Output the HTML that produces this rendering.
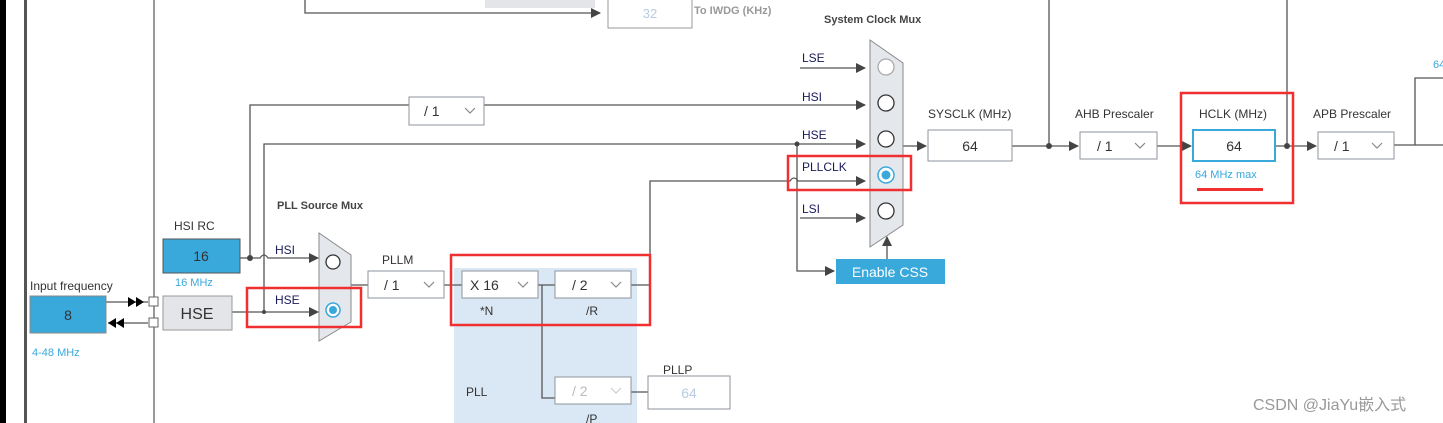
<!DOCTYPE html>
<html><head><style>
body{margin:0;width:1443px;height:423px;overflow:hidden;background:#fff}
svg{display:block}
text{font-family:"Liberation Sans","Noto Sans CJK SC",sans-serif}
</style></head><body>
<svg width="1443" height="423" viewBox="0 0 1443 423" xmlns="http://www.w3.org/2000/svg">
<defs>
<marker id="a" markerWidth="10" markerHeight="10" refX="9" refY="5" orient="auto" markerUnits="userSpaceOnUse"><path d="M0,0L10,5L0,10z" fill="#444"/></marker>
</defs>
<rect x="0" y="0" width="6" height="423" fill="#000"/>
<rect x="24" y="0" width="3" height="423" fill="#555"/>
<rect x="153" y="0" width="2" height="423" fill="#999"/>
<rect x="454" y="268" width="183" height="155" fill="#dae7f4"/>
<g stroke="#555" stroke-width="1.3" fill="none">
<path d="M305 0V13H600" marker-end="url(#a)"/>
<path d="M250 258V105H409M484 105H865" marker-end="url(#a)"/>
<path d="M264 312V144H865" marker-end="url(#a)"/>
<path d="M240 258H260q4,-6 8,0H318" marker-end="url(#a)"/>
<path d="M232 312H318" marker-end="url(#a)"/>
<path d="M351 285H368M444 285H462M538 285H555M631 285H650V181H790q4,-6 8,0H865" marker-end="url(#a)"/>
<path d="M542 285V398H555M631 392H648"/>
<path d="M800 68H865" marker-end="url(#a)"/>
<path d="M800 218H865" marker-end="url(#a)"/>
<path d="M797 144V271H834" marker-end="url(#a)"/>
<path d="M887 259V237" marker-end="url(#a)"/>
<path d="M903 146H926" marker-end="url(#a)"/>
<path d="M1049 0V146"/>
<path d="M1012 146H1078" marker-end="url(#a)"/>
<path d="M1157 146H1191" marker-end="url(#a)"/>
<path d="M1287 0V146"/>
<path d="M1275 146H1316" marker-end="url(#a)"/>
<path d="M1394 145H1443M1415 145V78H1443"/>
<path d="M106 302H148M108 323H148"/>
</g>
<path d="M128 297L136 302L128 307zM136 297L144 302L136 307z" fill="#000"/>
<path d="M124 318L116 323L124 328zM116 318L108 323L116 328z" fill="#000"/>
<circle cx="250" cy="258" r="3" fill="#444"/><circle cx="264" cy="312" r="2" fill="#444"/><circle cx="797" cy="144" r="2.5" fill="#444"/>
<circle cx="1049" cy="146" r="3" fill="#444"/><circle cx="1287" cy="146" r="3" fill="#444"/>
<rect x="149" y="297" width="9" height="9" fill="#fff" stroke="#666"/><rect x="149" y="318" width="9" height="9" fill="#fff" stroke="#666"/>
<rect x="485" y="0" width="110" height="8" fill="#e3e5e8"/>
<rect x="608" y="-1" width="84" height="29" fill="#fff" stroke="#999"/>
<text x="650" y="18" font-size="13" fill="#b8cce4" text-anchor="middle">32</text>
<text x="694" y="14" font-size="11" font-weight="bold" fill="#999">To IWDG (KHz)</text>
<g stroke="#8c949c" fill="#fff">
<rect x="409" y="97" width="75" height="28"/>
<rect x="368" y="271" width="76" height="27"/>
<rect x="462" y="271" width="76" height="27"/>
<rect x="555" y="271" width="76" height="27"/>
<rect x="555" y="377" width="76" height="27"/>
<rect x="648" y="376" width="82" height="33"/>
<rect x="928" y="130" width="84" height="31"/>
<rect x="1080" y="132" width="77" height="27"/>
<rect x="1318" y="132" width="76" height="27"/>
</g>
<g fill="none" stroke="#888" stroke-width="1.2">
<path d="M465 108l5 5 5-5M424 282l5 5 5-5M518 282l5 5 5-5M611 282l5 5 5-5M1135 143l5 5 5-5M1372 143l5 5 5-5"/>
<path d="M611 388l5 5 5-5" stroke="#ccc"/>
</g>
<g font-size="14" fill="#333">
<text x="424" y="116">/ 1</text><text x="384" y="290">/ 1</text><text x="470" y="290">X 16</text><text x="572" y="290">/ 2</text>
<text x="572" y="396" fill="#bbb">/ 2</text><text x="1097" y="151">/ 1</text><text x="1334" y="151">/ 1</text>
<text x="970" y="151" text-anchor="middle">64</text>
</g>
<text x="689" y="398" font-size="14" fill="#b8cce4" text-anchor="middle">64</text>
<rect x="163" y="239" width="77" height="34" fill="#39a8db" stroke="#555"/>
<text x="201" y="261" font-size="14" fill="#333" text-anchor="middle">16</text>
<rect x="30" y="296" width="76" height="37" fill="#39a8db" stroke="#888"/>
<text x="68" y="320" font-size="14" fill="#333" text-anchor="middle">8</text>
<rect x="163" y="296" width="69" height="34" fill="#e3e5e8" stroke="#999"/>
<text x="197" y="319" font-size="16" fill="#333" text-anchor="middle">HSE</text>
<rect x="836" y="259" width="109" height="25" fill="#39a8db"/>
<text x="890" y="277" font-size="14" fill="#fff" text-anchor="middle">Enable CSS</text>
<rect x="1193" y="130" width="82" height="31" fill="#fff" stroke="#39a8db" stroke-width="2"/>
<text x="1234" y="151" font-size="14" fill="#333" text-anchor="middle">64</text>
<polygon points="319,233 351,255 351,322 319,341" fill="#e4e8ec" stroke="#888"/>
<circle cx="333" cy="262" r="7" fill="#fff" stroke="#333" stroke-width="1.3"/>
<circle cx="333" cy="310" r="7" fill="#fff" stroke="#39a8db" stroke-width="1.5"/><circle cx="333" cy="310" r="4" fill="#39a8db"/>
<polygon points="870,40 903,63 903,225 870,247" fill="#e4e8ec" stroke="#888"/>
<circle cx="886" cy="67" r="8" fill="#fff" stroke="#aaa" stroke-width="1.3"/>
<circle cx="886" cy="103" r="8" fill="#fff" stroke="#333" stroke-width="1.3"/>
<circle cx="886" cy="139" r="8" fill="#fff" stroke="#333" stroke-width="1.3"/>
<circle cx="886" cy="175" r="8" fill="#fff" stroke="#39a8db" stroke-width="1.5"/><circle cx="886" cy="175" r="4.5" fill="#39a8db"/>
<circle cx="886" cy="211" r="8" fill="#fff" stroke="#333" stroke-width="1.3"/>
<g font-size="12" fill="#333">
<text x="174" y="230">HSI RC</text>
<text x="30" y="290">Input frequency</text>
<text x="382" y="264">PLLM</text>
<text x="480" y="315">*N</text><text x="586" y="315">/R</text>
<text x="466" y="396">PLL</text><text x="586" y="423">/P</text>
<text x="663" y="374">PLLP</text>
<text x="928" y="118">SYSCLK (MHz)</text>
<text x="1075" y="118">AHB Prescaler</text>
<text x="1199" y="118">HCLK (MHz)</text>
<text x="1313" y="118">APB Prescaler</text>
</g>
<g font-size="12" fill="#1a1a5a">
<text x="275" y="254">HSI</text><text x="275" y="304">HSE</text>
<text x="802" y="62">LSE</text><text x="802" y="101">HSI</text><text x="802" y="139">HSE</text>
<text x="802" y="171">PLLCLK</text><text x="802" y="213">LSI</text>
</g>
<g font-size="11" font-weight="bold" fill="#444">
<text x="277" y="209">PLL Source Mux</text><text x="824" y="23">System Clock Mux</text>
</g>
<g font-size="11" fill="#39a8db">
<text x="175" y="286">16 MHz</text><text x="32" y="356">4-48 MHz</text>
<text x="1195" y="178">64 MHz max</text><text x="1433" y="68">64</text>
</g>
<g fill="none" stroke="#f03030" stroke-width="2.5">
<rect x="247" y="288" width="114" height="39"/>
<rect x="451" y="255" width="199" height="70"/>
<rect x="788" y="156" width="123" height="34"/>
<rect x="1181" y="93" width="112" height="110"/>
</g>
<rect x="1197" y="188" width="66" height="3" fill="#f03030"/>
<text x="1253" y="410" font-size="16" fill="#999">CSDN @JiaYu嵌入式</text>
</svg>
</body></html>
